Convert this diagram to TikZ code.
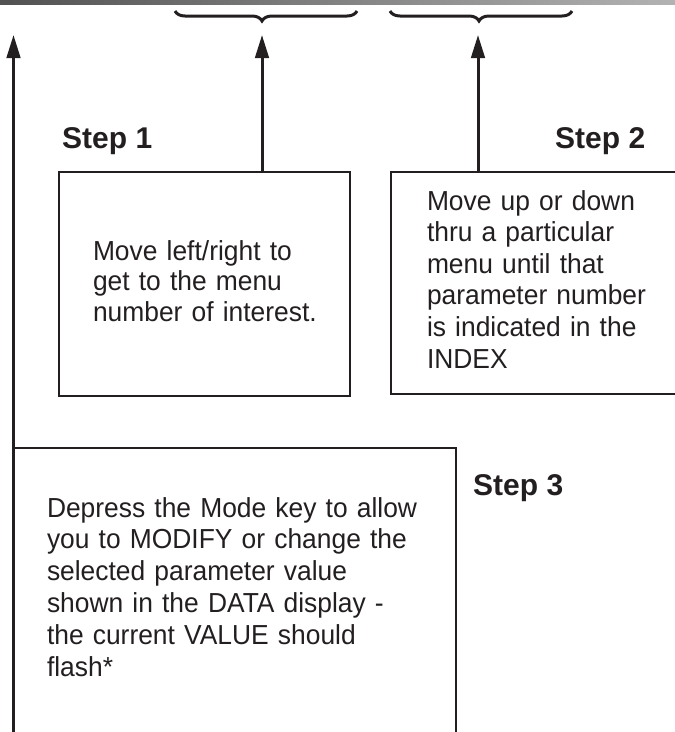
\documentclass[tikz,border=0pt]{standalone}
\usepackage{fontspec}
\setmainfont{Liberation Sans}
\newfontfamily\bodyfont{Liberation Sans}[FakeStretch=0.96]
\usetikzlibrary{arrows.meta,decorations.pathreplacing}
\definecolor{ink}{HTML}{231F20}
\begin{document}
\begin{tikzpicture}[x=1pt,y=1pt,
  boxstyle/.style={draw=ink,line width=2.3pt,rectangle,anchor=north west,outer sep=0pt,inner ysep=0pt,align=left,text=ink,font=\bodyfont\fontsize{27.5}{31.6}\selectfont},
  steplabel/.style={anchor=base west,inner sep=0pt,text=ink,font=\fontsize{30}{36}\selectfont\bfseries},
  uparrow/.style={draw=ink,line width=3pt,-{Triangle[length=23pt,width=13.5pt]}},
  bracestyle/.style={draw=ink,line width=3pt,decorate,decoration={brace,mirror,amplitude=10pt}}]
\useasboundingbox (0,0) rectangle (675,-732);
\clip (0,0) rectangle (675,-732);
\shade[left color=black!68,right color=black!30] (0,0) rectangle (675,-4.7);
% boxes
\node[boxstyle,text width=223pt,inner xsep=34pt,text height=88pt,text depth=136pt,
  font=\bodyfont\fontsize{27.5}{30.5}\selectfont] (box1) at (59,-172)
  {\mbox{Move left/right to}\\\mbox{get to the menu}\\\mbox{number of interest.}};
\node[boxstyle,text width=217pt,inner xsep=36pt,text height=38pt,text depth=184pt] (box2) at (391,-172)
  {\mbox{Move up or down}\\\mbox{thru a particular}\\\mbox{menu until that}\\\mbox{parameter number}\\\mbox{is indicated in the}\\\mbox{INDEX}};
\node[boxstyle,text width=375.5pt,inner xsep=33.5pt,text height=69pt,text depth=223pt,
  font=\bodyfont\fontsize{27.5}{31.9}\selectfont] (box3) at (13.5,-448)
  {\mbox{Depress the Mode key to allow}\\\mbox{you to MODIFY or change the}\\\mbox{selected parameter value}\\\mbox{shown in the DATA display -}\\\mbox{the current VALUE should}\\\mbox{flash*}};
% step labels
\node[steplabel] (s1) at (62,-148) {Step 1};
\node[steplabel] (s2) at (555,-148) {Step 2};
\node[steplabel] (s3) at (473,-495) {Step 3};
% arrows
\coordinate (tipL) at (13.5,-35);
\coordinate (tipM) at (262,-35);
\coordinate (tipR) at (478,-35);
\draw[uparrow] (box3.north west) -- (tipL);
\draw[uparrow] (box1.north -| tipM) -- (tipM);
\draw[uparrow] (box2.north -| tipR) -- (tipR);
% braces
\coordinate (b1l) at (175,-11);
\coordinate (b1r) at (357,-11);
\coordinate (b2l) at (390,-11);
\coordinate (b2r) at (572,-11);
\draw[bracestyle,decoration={aspect=0.478}] (b1l) -- (b1r);
\draw[bracestyle,decoration={aspect=0.489}] (b2l) -- (b2r);
\end{tikzpicture}
\end{document}
